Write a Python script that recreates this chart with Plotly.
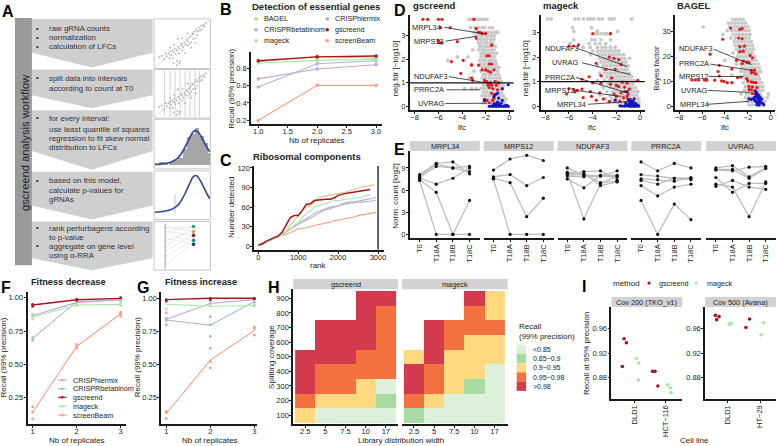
import plotly.graph_objects as go

W, H = 778, 446
FONT = "Liberation Sans"
TXT = "#222222"
AXC = "#1a1a1a"

# ---------- DATA ----------
methods_col = {"BAGEL": "#d6c684", "CRISPhiermix": "#c7a3d6", "CRISPRbetabinom": "#a3b8d6",
               "gscreend": "#a8141f", "mageck": "#a6e8a2", "screenBeam": "#f7a086"}
b_reps = [1, 2, 3]
b_bagel = [0.88, 0.94, 0.92]
b_hier = [0.68, 0.795, 0.845]
b_beta = [0.585, 0.855, 0.89]
b_gs = [0.89, 0.935, 0.945]
b_mag = [0.865, 0.895, 0.905]
b_sb = [0.20, 0.605, 0.605]

c_rank = [0, 100, 200, 300, 400, 500, 600, 700, 800, 900, 1000, 1100, 1200, 1300, 1400, 1500, 1600, 1700, 1800, 1900,
          2000, 2100, 2200, 2300, 2400, 2500, 2600, 2700, 2800, 2900, 2950]
c_bagel = [1, 2, 6, 10, 12, 14, 18, 24, 32, 40, 46, 54, 60, 62, 67, 74, 76, 77, 78, 79, 80, 81, 83, 85, 87, 90, 91, 92, 93, 94, None]
c_gs = [2, 4, 8, 11, 13, 16, 22, 32, 44, 47, 47, 55, 64, 65, 70, 71, 72, 72, 72, 74, 78, 80, 81, 82, 83, 84, 85, 85, 87, None, None]
c_mag = [1, 3, 6, 9, 12, 15, 18, 22, 26, 32, 36, 44, 50, 54, 60, 62, 64, 66, 68, 70, 70, 71, 72, 72, 73, 74, 75, 78, 79, None, None]
c_beta = [1, 3, 7, 10, 12, 15, 18, 22, 27, 31, 35, 38, 42, 46, 50, 53, 56, 58, 60, 61, 62, 65, 67, 68, 68, 69, 70, 71, 73, 74, 75]
c_hier = [1, 3, 6, 9, 12, 15, 18, 22, 26, 30, 34, 37, 40, 43, 46, 50, 54, 56, 58, 60, 62, 64, 65, 66, 66, 67, 68, 68, 69, 70, 71]
c_sb = [2, 4, 7, 10, 14, 16, 18, 18, 21, 24, 27, 27, 28, 30, 32, 33, 35, 36, 37, 39, 40, 41, 42, 44, 45, 47, 48, 49, 50, 51, 52]

gs_gray_rows = {
 3.9: [-7.6,-7.2,-6.8,-6.4,-6.1,-5.8,-5.5,-5.2,-4.9,-4.6,-4.3,-4,-3.7,-3.4,-3.1,-2.8,-2.5,-2.2,-1.9,-1.6,-1.3,-1],
 3.7: [-3.4,-3.2,-2.9,-2.7,-2.5,-2.3,-2.1,-1.9],
 3.35: [-3.3,-2.9,-2.6,-2.3,-2.1,-1.7,-1.4],
 3.15: [-3.0,-2.7,-2.4,-2.1,-1.8,-1.5,-1.2,-1.0],
 3.0: [-2.8,-2.5,-2.3,-2,-1.8,-1.5,-1.3],
 2.85: [-2.7,-2.4,-2.2,-1.9,-1.6,-1.3],
 2.7: [-2.6,-2.4,-2.1,-1.9,-1.6,-5.8,-1.4],
 2.55: [-2.5,-2.3,-2.0,-1.8,-1.5,-1.2],
 2.4: [-2.6,-2.3,-2.1,-1.8,-1.5,-1.3,-3.1],
 2.25: [-2.4,-2.2,-1.9,-1.7,-1.4,-1.1],
 2.1: [-2.4,-2.1,-1.9,-1.6,-1.3,-4.4,-3.5],
 1.95: [-2.5,-2.2,-2.0,-1.7,-1.5,-1.2,-5.2],
 1.8: [-2.4,-2.1,-1.8,-1.6,-1.3,-1.1,-3.2],
 1.65: [-2.3,-2.0,-1.8,-1.5,-1.2,-0.9],
 1.5: [-2.4,-2.1,-1.8,-1.6,-1.4,-1.0,-3.0],
 1.35: [-2.2,-2.0,-1.7,-1.5,-1.2,-0.9],
 1.2: [-2.3,-2.0,-1.7,-1.4,-1.1,-0.8,-3.4],
 1.05: [-2.1,-1.9,-1.6,-1.3,-1.0,-0.7],
 0.9: [-2.2,-1.9,-1.7,-1.4,-1.1,-0.8,-0.5],
 0.75: [-2.4,-2.1,-1.8,-1.5,-1.2,-0.9,-0.6,-3.8,-3.2,-2.8],
 0.6: [-2.2,-1.9,-1.6,-1.3,-1.0,-0.7],
 0.45: [-2.3,-2.0,-1.7,-1.4,-1.1,-0.8,-0.5],
 0.3: [-2.1,-1.8,-1.5,-1.2,-0.9,-0.6,-0.3],
 0.15: [-2.2,-1.9,-1.6,-1.3,-1.0,-0.7,-0.4],
}
gs_red_x = [-6.5,-6.1,-5.4,-5.0,-4.2,-3.8,-3.5,-2.8,-2.1,-7.3,-6.9,-6.0,-5.7,-3.0,-5.8,-5.0,-2.8,-2.6,-2.3,-2.0,-2.5,-6.0,-5.9,-5.7,-4.4,-2.8,-1.5,-1.9,-1.7,-4.9,-3.9,-3.2,-2.6,-1.7,-1.5,-2.0,-1.8,-1.3,-2.3,-1.6,-4.1,-3.2,-3.1,-2.1,-1.9,-1.6,-1.2,-0.9,-1.8,-1.5,-1.1,-1.7,-1.4,-1.0,-1.5,-1.2,-1.3,-1.9,-2.1,-1.4,-1.7]
gs_red_y = [3.9,3.9,3.9,3.9,3.9,3.9,3.9,3.9,3.9,3.7,3.7,3.7,3.7,3.7,3.35,3.35,3.3,3.15,3.1,3.1,3.15,2.8,2.7,2.7,2.75,2.9,2.6,2.15,2.15,1.9,1.95,1.75,1.75,1.8,1.8,1.55,1.5,1.55,1.55,1.45,1.4,1.2,1.1,1.1,1.05,1.0,1.05,1.0,0.9,0.9,0.9,0.8,0.75,0.7,0.55,0.5,0.35,0.25,0.3,0.25,0.15]
gs_blue_x = [-0.1,-0.3,-0.5,-0.7,-0.9,-1.1,-1.3,-1.5,-1.7,-0.2,-0.4,-0.8,-1.0,-1.2,-1.4,-0.9,-1.1,-1.3,-0.7,-1.0,-0.6,-2.1,-0.9,-1.3,-1.2,-1.0,-0.1,-0.6]
gs_blue_y = [0,0,0,0,0,0,0,0,0,0.04,0.03,0.03,0.04,0.05,0.03,0.1,0.12,0.1,0.13,0.18,0.25,0.25,0.35,0.42,0.5,0.55,0.92,0.75]
gs_labels = ["MRPL34", "MRPS12", "NDUFAF3", "PRRC2A", "UVRAG"]
gs_lab_x = [-7.0, -6.8, -6.6, -6.8, -6.6]
gs_lab_y = [3.36, 2.77, 1.26, 0.7, 0.1]
gs_seg_x0 = [-5.5, -5.4, -5.1, -5.3, -5.4]
gs_seg_y0 = [3.36, 2.77, 1.26, 0.7, 0.12]
gs_seg_x1 = [-2.0, -2.75, -1.6, -2.5, -1.9]
gs_seg_y1 = [3.07, 2.98, 0.97, 0.7, 0.13]

mg_gray_rows = {
 3.55: [-7.8,-7.5,-5.5,-5.2,-4.8,-4.4,-4.2,-3.9,-3.5,-3.2,-2.6,-2.4,-2.2,-0.7],
 3.2: [-5.7,-4.1],
 3.05: [-5.6,-3.6,-1.9],
 2.95: [-3.8,-3.6,-3.3,-3.0,-2.8,-2.5],
 2.7: [-5.6,-4.1,-3.8,-3.3,-2.5],
 2.55: [-4.3,-3.8,-3.4,-2.9,-5.9],
 2.4: [-5.3,-4.8,-4.2,-3.6,-3.2,-2.9,-2.5,-2.1],
 2.25: [-4.0,-3.6,-3.3,-3.0,-2.7,-2.4,-2.1,-1.8],
 2.1: [-4.2,-3.5,-3.2,-2.9,-2.6,-2.3,-2.0,-1.7,-1.4],
 1.95: [-3.4,-3.1,-2.8,-2.5,-2.2,-1.9,-1.6,-1.3,-0.9],
 1.8: [-3.3,-3.0,-2.7,-2.4,-2.1,-1.8,-1.5,-1.2],
 1.65: [-3.6,-3.1,-2.8,-2.5,-2.2,-1.9,-1.6,-1.3,-1.0],
 1.5: [-3.1,-2.8,-2.5,-2.2,-1.9,-1.6,-1.3,-1.1],
 1.35: [-3.4,-3.0,-2.7,-2.4,-2.1,-1.8,-1.5,-1.2,-0.9],
 1.2: [-3.2,-2.8,-2.5,-2.2,-1.9,-1.6,-1.3,-1.0,-0.7],
 1.05: [-3.6,-3.0,-2.6,-2.3,-2.0,-1.7,-1.4,-1.1,-0.8,-0.5],
 0.9: [-3.3,-2.7,-2.4,-2.1,-1.8,-1.5,-1.2,-0.9,-0.6],
 0.75: [-3.1,-2.5,-2.2,-1.9,-1.6,-1.3,-1.0,-0.7,-0.4],
 0.6: [-2.8,-2.3,-2.0,-1.7,-1.4,-1.1,-0.8,-0.5,-0.2],
 0.45: [-3.4,-2.5,-2.1,-1.8,-1.5,-1.2,-0.9,-0.6,-0.3],
 0.3: [-2.9,-2.4,-2.0,-1.7,-1.4,-1.1,-0.8,-0.5,-0.2,-0.1],
 0.15: [-2.6,-2.2,-1.9,-1.6,-1.3,-1.0,-0.7,-0.4,-0.1],
}
mg_red_x = [-4.0,-2.5,-6.0,-5.6,-5.2,-2.6,-2.2,-1.8,-3.7,-1.6,-2.9,-2.1,-4.9,-4.3,-3.3,-2.4,-4.0,-3.3,-2.5,-1.5,-1.1,-0.2,-2.0,-1.8,-1.3,-0.9,-6.0,-5.6,-5.3,-4.9,-5.5,-4.2,-3.4,-2.2,-1.6,-1.3,-1.0,-6.2,-4.8,-4.1,-3.1,-2.0,-1.4,-1.1,-2.6,-3.7,-1.7,-1.2,-0.8]
mg_red_y = [2.95,2.95,2.45,2.45,2.5,2.0,1.95,1.9,1.75,1.7,1.5,1.5,1.1,1.2,1.25,1.15,0.95,0.95,0.9,0.98,0.95,1.05,0.85,0.8,0.78,0.7,0.72,0.68,0.65,0.7,0.58,0.6,0.55,0.5,0.55,0.6,0.5,0.5,0.35,0.4,0.3,0.4,0.35,0.4,0.2,0.25,0.2,0.15,0.28]
mg_blue_x = [-0.1,-0.3,-0.5,-0.7,-0.9,-1.1,-1.3,-1.5,-1.7,-0.2,-0.4,-0.6,-0.8,-1.0,-1.2,-0.7,-0.9,-0.6,-0.4,-0.8,-1.0,-1.1,-2.1,-0.5,-0.9]
mg_blue_y = [0.01,0,0,0,0,0.02,0.01,0.01,0.02,0.05,0.06,0.08,0.06,0.05,0.1,0.15,0.15,0.2,0.12,0.22,0.28,0.6,0.25,0.3,0.08]
mg_labels = ["NDUFAF3", "UVRAG", "PRRC2A", "MRPS12", "MRPL34"]
mg_lab_x = [-6.6, -6.3, -6.8, -6.8, -5.8]
mg_lab_y = [2.34, 1.77, 1.17, 0.65, 0.08]
mg_seg_x0 = [-5.2, -4.9, -5.4, -5.5, -4.4]
mg_seg_y0 = [2.34, 1.77, 1.17, 0.65, 0.08]
mg_seg_x1 = [-1.07, -0.8, -1.15, -1.6, -0.8]
mg_seg_y1 = [1.61, 1.29, 0.56, 0.4, 0.2]

ba_gray_rows = {
 35: [-3.3,-3.0,-2.7,-2.4],
 33.5: [-3.7,-3.4,-3.1,-2.8,-2.5,-2.2],
 32: [-5.9,-3.6,-3.2,-2.9,-2.6,-2.3,-2.0],
 30.5: [-3.8,-3.4,-3.1,-2.8,-2.5,-2.2,-1.9],
 29: [-4.2,-3.3,-3.0,-2.7,-2.4,-2.1,-1.8],
 27.5: [-3.5,-3.1,-2.8,-2.5,-2.2,-1.9],
 26: [-3.2,-2.9,-2.6,-2.3,-2.0,-1.7],
 24.5: [-3.1,-2.8,-2.5,-2.2,-1.9,-1.6],
 23: [-3.0,-2.7,-2.4,-2.1,-1.8,-1.5],
 21.5: [-3.3,-2.8,-2.5,-2.2,-1.9,-1.6],
 20: [-2.9,-2.6,-2.3,-2.0,-1.7,-1.4],
 18.5: [-4.0,-2.8,-2.5,-2.2,-1.9,-1.6,-1.3],
 17: [-3.0,-2.6,-2.3,-2.0,-1.7,-1.4,-1.1],
 15.5: [-2.5,-2.2,-1.9,-1.6,-1.3,-1.0],
 14: [-2.6,-2.3,-2.0,-1.7,-1.4,-1.1,-0.9],
 12.5: [-3.4,-2.3,-2.0,-1.7,-1.4,-1.1],
 11: [-2.2,-1.9,-1.6,-1.3,-1.0],
 9.5: [-2.4,-2.0,-1.7,-1.4,-1.1,-0.8],
 8: [-2.2,-1.9,-1.6,-1.3,-1.0,-0.7],
 6.5: [-2.3,-1.9,-1.6,-1.3,-1.0,-0.7],
 5: [-2.6,-2.1,-1.8,-1.5,-1.2,-0.9,-0.2],
 3.5: [-2.2,-1.9,-1.6,-1.3,-1.0,-0.7,-0.3],
 2: [-2.0,-1.7,-1.4,-1.1,-0.8,-0.5],
 0.6: [-1.9,-1.6,-1.3,-1.0,-0.7],
}
ba_red_x = [-3.5,-2.7,-2.5,-4.2,-2.8,-2.5,-2.7,-2.3,-2.7,-2.4,-5.3,-1.8,-3.0,-4.5,-2.4,-2.1,-1.9,-2.5,-1.6,-3.4,-1.7,-1.4,-4.6,-1.7,-1.5,-1.3,-6.9,-6.6,-6.3,-5.8,-5.6,-2.9,-2.6,-2.1,-4.9,-4.3,-4.1,-3.8,-4.5,-3.4,-2.0,-1.7,-1.5,-1.3,-1.9,-1.6,-1.2,-1.7,-1.4,-1.9,-1.3,-1.6,-1.2]
ba_red_y = [31.5,31,31.3,27,27.5,27.2,24,24.2,22,22.2,21,20.5,18.5,16.5,18.2,17.8,17.6,17.2,19.5,15,14.5,14.6,14,13.5,13.6,13,10.6,10.6,10.6,10.6,10.5,11.5,11.8,11.2,10.5,10.2,10,9.5,12.2,9.5,10.2,9.8,9.6,9.5,8,7.8,7.5,6.6,6.3,6.8,5,5.2,4]
ba_blue_x = [-1.3,-1.2,-1.1,-1.0,-0.9,-0.8,-1.5,-1.4,-1.1,-1.0,-0.9,-0.7,-0.6,-1.3,-1.1,-1.2,-1.0,-1.9,-1.7,-1.4,-1.2,-1.3,-1.1,-1.3]
ba_blue_y = [6,5.2,4.6,4,3.4,2.8,3.2,3.6,2.8,2.2,1.6,1.2,0.6,2,1.2,0.6,0.5,3,2.8,2.4,1.6,3.8,3.2,4.8]
ba_labels = ["NDUFAF3", "PRRC2A", "MRPS12", "UVRAG", "MRPL34"]
ba_lab_x = [-6.5, -6.7, -6.7, -6.7, -6.7]
ba_lab_y = [23.2, 17.2, 12, 6.4, 0.8]
ba_seg_x0 = [-5.0, -5.3, -5.4, -5.5, -5.5]
ba_seg_y0 = [23, 17, 12, 6.4, 0.8]
ba_seg_x1 = [-1.7, -1.5, -2.4, -1.8, -1.9]
ba_seg_y1 = [16.8, 14.4, 12, 5.6, 2]

e_times = ["T0", "T18A", "T18B", "T18C"]
e_genes = ["MRPL34", "MRPS12", "NDUFAF3", "PRRC2A", "UVRAG"]
e_mrpl34 = [[8.1, 9.6, 9.8, 8.2], [7.9, 9.5, 9.0, 8.5], [7.7, 9.2, 9.0, 9.2], [7.6, 6.8, 7.6, 9.0], [7.4, 5.7, 0, 4.6], [7.3, 0, 0, 0]]
e_mrps12 = [[8.7, 10.2, 10.7, 10.0], [7.8, 8.1, 6.6, 7.7], [7.6, 7.0, 2.4, 4.9], [7.5, 0, 0, 0]]
e_ndufaf3 = [[9.0, 8.0, 7.9, 8.6], [8.4, 8.3, 6.6, 7.1], [8.2, 8.5, 8.6, 7.4], [8.1, 8.1, 7.0, 7.2], [7.9, 7.8, 7.9, 7.8], [7.5, 6.3, 8.0, 8.0], [8.3, 2.1, 6.9, 7.9]]
e_prrc2a = [[9.8, 8.6, 9.6, 9.0], [8.1, 7.9, 7.6, 7.6], [7.5, 7.4, 7.2, 7.7], [7.3, 6.8, 7.6, 7.4], [6.6, 5.2, 6.4, 6.8], [4.6, 0, 4.1, 2.0]]
e_uvrag = [[9.0, 9.3, 7.8, 9.0], [8.8, 8.8, 7.6, 8.9], [8.7, 8.6, 9.1, 9.2], [7.7, 5.7, 6.9, 6.9], [6.8, 6.4, 2.4, 7.1], [6.5, 7.3, 6.4, 6.1]]
e_series = [e_mrpl34, e_mrps12, e_ndufaf3, e_prrc2a, e_uvrag]

f_hier = [0.865, 0.965, 0.985]
f_beta = [0.695, 0.97, 0.985]
f_gs = [0.945, 0.985, 0.995]
f_mag = [0.855, 0.945, 0.95]
f_sb = [0.14, 0.635, 0.88]
f_pts = {"CRISPhiermix": [(1, .87), (1, .86), (2, .97), (3, .99)],
         "CRISPRbetabinom": [(1, .70), (1, .68), (2, .96), (3, .98)],
         "gscreend": [(1, .95), (1, .935), (2, .99), (2, .98), (3, 1.0)],
         "mageck": [(1, .86), (1, .84), (2, .95), (2, .94), (3, .96), (3, .94)],
         "screenBeam": [(1, .18), (1, .14), (1, .09), (2, .65), (2, .63), (2, .62), (3, .89), (3, .88), (3, .86)]}
g_hier = [0.84, 0.96, 0.99]
g_beta = [0.835, 0.795, 0.975]
g_gs = [0.99, 1.0, 1.0]
g_mag = [0.955, 0.94, 0.945]
g_sb = [0.125, 0.53, 0.755]
g_pts = {"CRISPhiermix": [(1, .89), (1, .84), (1, .80), (2, .98), (2, .96), (3, .99)],
         "CRISPRbetabinom": [(1, .85), (1, .83), (2, .86), (2, .80), (2, .71), (3, .97)],
         "gscreend": [(1, .99), (1, .98), (2, 1.0), (2, .99), (3, 1.0), (3, .995)],
         "mageck": [(1, .97), (1, .92), (2, .94), (3, .95), (3, .94)],
         "screenBeam": [(1, .14), (1, .13), (1, .085), (2, .62), (2, .52), (2, .47), (3, .78), (3, .77), (3, .72)]}

h_widths = ["2.5", "5", "7.5", "10", "17"]
h_cover = [100, 200, 300, 400, 500, 600, 700, 800, 900]
h_labels = ["<0.85", "0.85−0.9", "0.9−0.95", "0.95−0.98", ">0.98"]
h_colors = ["#dcefd8", "#a8dba2", "#fed980", "#f3703f", "#d33a4e"]
h_gs = [[2, 0, 0, 0, 0], [3, 2, 2, 2, 1], [4, 3, 3, 2, 0], [4, 3, 3, 3, 3], [4, 4, 4, 3, 3],
        [None, 4, 4, 4, 3], [None, 4, 4, 4, 3], [None, None, None, 4, 3], [None, None, None, 4, 4]]
h_mg = [[1, 0, 0, 0, 0], [3, 2, 0, 0, 0], [4, 3, 2, 1, 0], [4, 3, 2, 2, 0], [2, 4, 2, 2, 2],
        [None, 4, 3, 2, 2], [None, 4, 3, 3, 3], [None, None, None, 3, 2], [None, None, None, 4, 2]]

i1_gs_x = [0.667, 0.742, 0.613, 1.59, 1.667, 1.76]
i1_gs_y = [0.9436, 0.937, 0.898, 0.89, 0.89, 0.866]
i1_mg_x = [1.065, 1.14, 1.13, 2.075, 2.17, 2.19]
i1_mg_y = [0.911, 0.904, 0.876, 0.868, 0.863, 0.855]
i2_gs_x = [0.643, 0.755, 0.684, 1.57, 1.68]
i2_gs_y = [0.982, 0.98, 0.975, 0.962, 0.976]
i2_mg_x = [1.06, 1.13, 1.08, 2.03, 2.11]
i2_mg_y = [0.967, 0.969, 0.968, 0.95, 0.97]

th_sc_x = [.08,.13,.17,.2,.22,.25,.27,.28,.3,.32,.33,.35,.36,.38,.4,.41,.42,.44,.45,.46,.48,.5,.5,.52,.54,.55,.56,.58,.6,.6,.62,.63,.65,.66,.68,.7,.7,.72,.74,.75,.77,.78,.8,.82,.84,.85,.88,.9,.92,.34,.4,.45,.35,.42,.6,.66,.74,.28,.5]
th_sc_y = [.22,.25,.18,.3,.24,.3,.2,.34,.26,.36,.2,.32,.4,.28,.36,.14,.44,.3,.4,.12,.5,.36,.46,.42,.52,.3,.48,.58,.46,.55,.62,.5,.66,.54,.72,.6,.7,.76,.62,.8,.68,.76,.84,.78,.88,.8,.9,.86,.94,.1,.05,.08,.48,.6,.72,.42,.52,.42,.62]
th_cv_x = [0,.1,.2,.3,.35,.4,.45,.5,.55,.6,.65,.7,.75,.8,.85,.9,.95,1]
th_cv_y = [.02,.03,.05,.09,.13,.18,.26,.38,.52,.68,.84,.97,1.0,.93,.8,.65,.5,.38]
th_hist_x = [.05,.12,.2,.3,.38,.46,.54,.62,.7,.76,.84,.92,1.0]
th_hist_y = [.02,.09,.05,.08,.14,.2,.45,.82,.9,1.06,.84,.62,.35]
th_grid = [.18,.28,.37,.46,.55,.64,.73,.81]
th_dot_colors = ["#7fd0b0","#e8b08a","#b890c0","#9fb8d8","#90d0a0","#d8a0a0","#a0c8d8","#c0c090"]
th_big_colors = ["#2a9d8f", "#ee9944", "#8e1c4b", "#1a8a70", "#1f3a8a"]

# ---------- HELPERS ----------
fig = go.Figure()
layout = dict(width=W, height=H, margin=dict(l=0, r=0, t=0, b=0), paper_bgcolor="white", plot_bgcolor="rgba(0,0,0,0)",
              showlegend=False, font=dict(family=FONT, color=TXT, size=7))
ax_n = [1]
layout["xaxis"] = dict(domain=[0, 1], range=[0, W], visible=False, fixedrange=True)
layout["yaxis"] = dict(domain=[0, 1], range=[H, 0], visible=False, fixedrange=True)
annos, shapes = [], []

def new_axes(l, r, t, b, xcal, ycal, xkw=None, ykw=None):
    ax_n[0] += 1
    n = ax_n[0]
    def ext(p0, v0, p1, v1, a, z):
        k = (v1 - v0) / (p1 - p0)
        return [v0 + (a - p0) * k, v0 + (z - p0) * k]
    base = dict(showgrid=False, zeroline=False, ticks="outside", ticklen=2, tickwidth=0.8, tickcolor=AXC,
                showline=True, linecolor=AXC, linewidth=1.8, tickfont=dict(size=7.5, color=TXT), fixedrange=True,
                ticklabelstandoff=-1)
    xa = dict(base, domain=[l / W, r / W], range=ext(*xcal, l, r), anchor=f"y{n}", ticklabelstandoff=-3)
    ya = dict(base, domain=[1 - b / H, 1 - t / H], range=ext(*ycal, b, t), anchor=f"x{n}")
    xa.update(xkw or {}); ya.update(ykw or {})
    layout[f"xaxis{n}"] = xa
    layout[f"yaxis{n}"] = ya
    return f"x{n}", f"y{n}"

def txt(x, y, s, size=7.5, bold=False, anchor="center", rot=0, color=TXT):
    annos.append(dict(x=x, y=y, xref="x", yref="y", text=f"<b>{s}</b>" if bold else s, showarrow=False,
                      font=dict(size=size, color=color, family=FONT), xanchor=anchor, yanchor="middle",
                      textangle=rot))

def rect(x0, y0, x1, y1, fill, line=None):
    shapes.append(dict(type="rect", xref="x", yref="y", x0=x0, y0=y0, x1=x1, y1=y1, fillcolor=fill,
                       line=dict(color=line or fill, width=0.8 if line else 0), layer="below"))

def strip(x0, x1, y0, y1, s):
    rect(x0, y0, x1, y1, "#d2d2d2")
    txt((x0 + x1) / 2, (y0 + y1) / 2 + 0.3, s, size=7.3)

def add(x, y, xa, ya, mode="lines", color="#000", w=1, size=3, **kw):
    fig.add_trace(go.Scatter(x=x, y=y, xaxis=xa, yaxis=ya, mode=mode, line=dict(color=color, width=w),
                             marker=dict(color=color, size=size, line=dict(width=0)), hoverinfo="skip",
                             cliponaxis=kw.pop("cliponaxis", True), **kw))

def pts_of(rows):
    xs, ys = [], []
    for yv, row in rows.items():
        for xv in row:
            xs.append(xv); ys.append(yv)
    return xs, ys

# ---------- PANEL A ----------
arrows = [(17, 51, 66), (68, 94, 107), (109, 150, 169), (171, 205, 219), (221, 258, 270)]
for t, s, tip in arrows:
    shapes.append(dict(type="path", xref="x", yref="y",
                       path=f"M32,{t} L153,{t} L153,{s} L92,{tip} L32,{s} Z",
                       fillcolor="#cfcfcf", line=dict(width=0), layer="below"))
rect(15, 16, 32, 265, "#9a9a9a")
txt(25, 141, "gscreend analysis workflow", size=11.2, rot=-90, color="#222")
a_lines = [(27, True, "raw gRNA counts"), (36, True, "normalization"), (45, True, "calculation of LFCs"),
           (77, True, "split data into intervals"), (87, False, "according to count at T0"),
           (117, True, "for every interval:"), (128, False, "use least quantile of squares"),
           (137, False, "regression to fit skew normal"), (146, False, "distribution to LFCs"),
           (180, True, "based on this model,"), (190, False, "calculate p-values for"), (199, False, "gRNAs"),
           (228, True, "rank perturbagens according"), (237, False, "to p-value"),
           (246, True, "aggregate on gene level"), (255, False, "using α-RRA")]
for y, bullet, s in a_lines:
    if bullet:
        txt(38, y - 0.5, "•", size=7.5, color="#222")
    txt(47, y, s, size=7.9, anchor="left", color="#333")

boxes = [(17, 67), (68, 117), (118, 168), (170, 219), (221, 270)]
for t, b in boxes:
    rect(154.5, t, 211, b, "white", "#b8b8b8")

def thumb(t, b, yr=(0, 1)):
    ax_n[0] += 1
    n = ax_n[0]
    layout[f"xaxis{n}"] = dict(domain=[155 / W, 210.5 / W], range=[0, 1], visible=False, anchor=f"y{n}", fixedrange=True)
    layout[f"yaxis{n}"] = dict(domain=[1 - b / H, 1 - t / H], range=list(yr), visible=False, anchor=f"x{n}", fixedrange=True)
    return f"x{n}", f"y{n}"

for idx, (t, b) in enumerate(boxes[:2]):
    xa, ya = thumb(t + 1, b - 1)
    if idx == 1:
        for g in th_grid:
            add([g, g], [0, 1], xa, ya, color="#b5b5b5", w=0.6)
    add([0, 1], [0, 1], xa, ya, color="#cccccc", w=0.6)
    add(th_sc_x, th_sc_y, xa, ya, mode="markers", color="#a8a8a8", size=1.7)
xa, ya = thumb(119, 167, (-0.08, 1.3))
fig.add_trace(go.Bar(x=th_hist_x, y=th_hist_y, xaxis=xa, yaxis=ya, width=0.085, marker=dict(color="#a6a6a6", line=dict(width=0)), hoverinfo="skip"))
add(th_cv_x, th_cv_y, xa, ya, color="#2f4b94", w=1.8, line_shape="spline")
xa, ya = thumb(171, 218, (-0.15, 1.1))
add([.37, .37], [0, .5], xa, ya, color="#b0b0b0", w=0.7)
add(th_cv_x, th_cv_y, xa, ya, color="#2f4b94", w=1.6, line_shape="spline")
# thumbnail 5: rank list, drawn on page scale
for i in range(26):
    y = 224 + i * 1.76
    add([165.7], [y], "x", "y", mode="markers", color=th_dot_colors[i % 8], size=1.8)
fan = [(226, 228), (231, 226), (226, 232), (235, 231), (240, 234), (231, 240), (244, 238), (226, 246), (235, 250), (240, 256), (244, 264)]
for yr_, yl_ in fan:
    add([166.5, 193], [yl_, yr_], "x", "y", color="#d8d8d8", w=0.5)
for yy, c in zip([226, 231, 235, 240, 244], th_big_colors):
    add([194], [yy], "x", "y", mode="markers", color=c, size=3.6)

# ---------- PANEL B ----------
xa, ya = new_axes(251.7, 383, 50, 123, (259, 1, 377, 3), (67, .8, 119, .2),
                  dict(tickvals=[1, 1.5, 2, 2.5, 3], ticktext=["1.0", "1.5", "2.0", "2.5", "3.0"]),
                  dict(tickvals=[.2, .4, .6, .8], ticktext=["0.2", "0.4", "0.6", "0.8"]))
for name, vals in [("BAGEL", b_bagel), ("CRISPhiermix", b_hier), ("CRISPRbetabinom", b_beta), ("mageck", b_mag),
                   ("screenBeam", b_sb), ("gscreend", b_gs)]:
    add(b_reps, vals, xa, ya, mode="lines+markers", color=methods_col[name], w=1.4 if name == "gscreend" else 1.1, size=3.6)
txt(317, 5, "Detection of essential genes", size=9.5, bold=True)
txt(232, 87, "Recall (95% precision)", size=8, rot=-90)
txt(318, 139, "Nb of replicates", size=8)
for (mx, my, name) in [(256.7, 17, "BAGEL"), (256.7, 28, "CRISPRbetabinom"), (256.7, 39, "mageck"),
                       (328, 17, "CRISPhiermix"), (328, 28, "gscreend"), (328, 39, "screenBeam")]:
    add([mx], [my], "x", "y", mode="markers", color=methods_col[name], size=3.6)
    txt(mx + 5.5, my, name, size=7.2, anchor="left")

# ---------- PANEL C ----------
xa, ya = new_axes(255, 385, 165, 250, (259, 0, 379, 3000), (246, 0, 167, 120),
                  dict(tickvals=[0, 1000, 2000, 3000]), dict(tickvals=[0, 30, 60, 90, 120]))
for name, vals in [("screenBeam", c_sb), ("CRISPhiermix", c_hier), ("CRISPRbetabinom", c_beta), ("BAGEL", c_bagel),
                   ("mageck", c_mag), ("gscreend", c_gs)]:
    add(c_rank, vals, xa, ya, color=methods_col[name], w=1.5 if name == "gscreend" else 1.1)
add([3000, 3000], [-5, 125], xa, ya, color="#111", w=1.3)
txt(308, 156, "Ribosomal components", size=9.5, bold=True)
txt(232, 207, "Number detected", size=8, rot=-90)
txt(319, 265, "rank", size=8)

# ---------- PANEL D ----------
d_cfg = [
    (411, 515, (415.7, -8, 510.7, 0), (105, 0, 34, 3), [0, 1, 2, 3], gs_gray_rows, gs_red_x, gs_red_y, gs_blue_x, gs_blue_y,
     gs_labels, gs_lab_x, gs_lab_y, gs_seg_x0, gs_seg_y0, gs_seg_x1, gs_seg_y1, True),
    (542, 647, (546.7, -8, 641.7, 0), (105, 0, 30.7, 3), [0, 1, 2, 3], mg_gray_rows, mg_red_x, mg_red_y, mg_blue_x, mg_blue_y,
     mg_labels, mg_lab_x, mg_lab_y, mg_seg_x0, mg_seg_y0, mg_seg_x1, mg_seg_y1, True),
    (677, 777, (681, -8, 772.7, 0), (105, 0, 30, 30), [0, 10, 20, 30], ba_gray_rows, ba_red_x, ba_red_y, ba_blue_x, ba_blue_y,
     ba_labels, ba_lab_x, ba_lab_y, ba_seg_x0, ba_seg_y0, ba_seg_x1, ba_seg_y1, False),
]
for l, r, xc, yc, yt, rows, rx, ry, bx, by, labs, lx, ly, sx0, sy0, sx1, sy1, hl in d_cfg:
    xa, ya = new_axes(l, r, 13, 109, xc, yc, dict(tickvals=[-8, -6, -4, -2, 0], ticktext=["−8", "−6", "−4", "−2", "0"]),
                      dict(tickvals=yt))
    gx, gy = pts_of(rows)
    add(gx, gy, xa, ya, mode="markers", color="#c8c8c8", size=3.8, cliponaxis=False)
    add(rx, ry, xa, ya, mode="markers", color="#e41a1c", size=3.2, cliponaxis=False)
    add(bx, by, xa, ya, mode="markers", color="#1414c8", size=3.2, cliponaxis=False)
    if hl:
        add([-8.5, 0.4], [1, 1], xa, ya, color="#111", w=1.2)
    for i in range(len(labs)):
        add([sx0[i], sx1[i]], [sy0[i], sy1[i]], xa, ya, color="#222", w=0.8)
        annos.append(dict(x=lx[i], y=ly[i], xref=xa, yref=ya, text=labs[i], showarrow=False,
                          font=dict(size=7.4, color=TXT, family=FONT)))
txt(412, 4, "gscreend", size=9.5, bold=True, anchor="left")
txt(542, 4, "mageck", size=9.5, bold=True, anchor="left")
txt(677, 4, "BAGEL", size=9.5, bold=True, anchor="left")
txt(397, 67, "neg.fdr [−log10]", size=8, rot=-90)
txt(527, 67, "neg.fdr [−log10]", size=8, rot=-90)
txt(658, 67, "Bayes factor", size=8, rot=-90)
txt(463, 126, "lfc", size=8); txt(594, 126, "lfc", size=8); txt(727, 126, "lfc", size=8)

# ---------- PANEL E ----------
e_left = [411, 485, 559, 633, 708]
for i, (l, gene, series) in enumerate(zip(e_left, e_genes, e_series)):
    xa, ya = new_axes(l, l + 70, 150, 238, (l + 9.7, 0, l + 59.7, 3), (234, 0, 167, 9),
                      dict(tickmode="array", tickvals=[0, 1, 2, 3], ticktext=e_times, tickangle=-90, ticklabelstandoff=-1),
                      dict(tickvals=[0, 3, 6, 9], visible=(i == 0)))
    for s in series:
        add([0, 1, 2, 3], s, xa, ya, mode="lines", color="#bdbdbd", w=1.3)
    for s in series:
        add([0, 1, 2, 3], s, xa, ya, mode="markers", color="#111", size=3.2, cliponaxis=False)
    strip(l, l + 70, 140, 150, gene)
txt(397, 195, "Norm. count [log2]", size=8, rot=-90)

# ---------- PANELS F, G ----------
fg_cfg = [(27.7, 126, 32.7, 121, 297.7, 398.3, [("CRISPhiermix", f_hier), ("CRISPRbetabinom", f_beta), ("mageck", f_mag), ("screenBeam", f_sb), ("gscreend", f_gs)], f_pts),
          (161.7, 258, 166.7, 255, 298.3, 397.7, [("CRISPhiermix", g_hier), ("CRISPRbetabinom", g_beta), ("mageck", g_mag), ("screenBeam", g_sb), ("gscreend", g_gs)], g_pts)]
for l, r, x1, x3, y100, y25, ser, ptd in fg_cfg:
    xa, ya = new_axes(l, r, 292, 425, (x1, 1, x3, 3), (y100, 1.0, y25, 0.25),
                      dict(tickvals=[1, 2, 3]),
                      dict(tickvals=[.25, .5, .75, 1], ticktext=["0.25", "0.50", "0.75", "1.00"]))
    for name, vals in ser:
        add([1, 2, 3], vals, xa, ya, color=methods_col[name], w=1.4 if name == "gscreend" else 1.1)
        px_ = [p[0] for p in ptd[name]]; py_ = [p[1] for p in ptd[name]]
        add(px_, py_, xa, ya, mode="markers", color=methods_col[name], size=2.8)
txt(29, 282, "Fitness decrease", size=9.2, bold=True, anchor="left")
txt(163, 282, "Fitness increase", size=9.2, bold=True, anchor="left")
txt(4, 358, "Recall (99% precision)", size=8, rot=-90)
txt(138, 358, "Recall (99% precision)", size=8, rot=-90)
txt(77, 441, "Nb of replicates", size=8)
txt(211, 441, "Nb of replicates", size=8)
for yy, name in zip([380.7, 389.5, 398, 407, 416], ["CRISPhiermix", "CRISPRbetabinom", "gscreend", "mageck", "screenBeam"]):
    add([58, 66.7], [yy, yy], "x", "y", mode="lines", color=methods_col[name], w=1.1)
    add([62.3], [yy], "x", "y", mode="markers", color=methods_col[name], size=2.8)
    txt(70.7, yy, name, size=7.2, anchor="left")

# ---------- PANEL H ----------
h_scale = [[i / 4, c] for i, c in enumerate(h_colors)]
for idx, (l, r, z, name) in enumerate([(294, 399, h_gs, "gscreend"), (403, 509, h_mg, "mageck")]):
    xa, ya = new_axes(l, r, 289.3, 425, (l + 12, 0, l + 12 + 80.8, 4), (416, 100, 298.3, 900),
                      dict(tickvals=list(range(5)), ticktext=h_widths),
                      dict(tickvals=h_cover, visible=(idx == 0)))
    fig.add_trace(go.Heatmap(z=z, x=list(range(5)), y=h_cover, xaxis=xa, yaxis=ya, colorscale=h_scale, zmin=0, zmax=4,
                             showscale=False, hoverinfo="skip"))
    strip(l, r, 279, 289.3, name)
txt(272, 357, "Splitting coverage", size=8, rot=-90)
txt(402, 441, "Library distribution width", size=8)
txt(518, 327, "Recall", size=8, anchor="left")
txt(518, 337, "(99% precision)", size=8, anchor="left")
for i, (lab, c) in enumerate(zip(h_labels, h_colors)):
    rect(518, 345 + i * 9.3, 527.5, 345 + (i + 1) * 9.3, c)
    txt(532, 349.7 + i * 9.3, lab, size=7, anchor="left")

# ---------- PANEL I ----------
i_cfg = [(613, 684, 636, 667, "Cov 200 (TKO_v1)", ["DLD1", "HCT−116"], i1_gs_x, i1_gs_y, i1_mg_x, i1_mg_y),
         (707, 778, 729, 762, "Cov 500 (Avana)", ["DLD1", "HT−29"], i2_gs_x, i2_gs_y, i2_mg_x, i2_mg_y)]
for l, r, c1, c2, title, cats, gx, gy, mx, my in i_cfg:
    xa, ya = new_axes(l, r, 307, 400, (c1, 1, c2, 2), (329, .96, 378, .88),
                      dict(tickvals=[1, 2], ticktext=cats, tickangle=-90, ticklabelstandoff=-1),
                      dict(tickvals=[.88, .92, .96], ticktext=["0.88", "0.92", "0.96"]))
    add(gx, gy, xa, ya, mode="markers", color="#a8141f", size=3.6)
    add(mx, my, xa, ya, mode="markers", color="#a6e8a2", size=3.6)
    strip(l, r, 297, 307, title)
txt(588, 353, "Recall at 95% precision", size=8, rot=-90)
txt(696, 441, "Cell line", size=8)
txt(613, 283, "method", size=8, anchor="left")
add([650.7], [283], "x", "y", mode="markers", color="#a8141f", size=3.2)
txt(659, 283, "gscreend", size=7.2, anchor="left")
add([698], [283], "x", "y", mode="markers", color="#a6e8a2", size=3.2)
txt(707, 283, "mageck", size=7.2, anchor="left")

# ---------- LETTERS ----------
for s, x, y in [("A", 8, 10), ("B", 227, 8), ("C", 227, 160), ("D", 401, 9), ("E", 401, 148),
                ("F", 6, 287), ("G", 143, 287), ("H", 275, 287), ("I", 585, 286)]:
    txt(x, y, s, size=16, bold=True, color="#000")

layout["annotations"] = annos
layout["shapes"] = shapes
layout["barmode"] = "overlay"
layout["bargap"] = 0
fig.update_layout(**layout)
fig.write_html("out.html", config=dict(displayModeBar=False),
               post_script="document.body.style.margin='0';document.body.style.overflow='hidden';")
